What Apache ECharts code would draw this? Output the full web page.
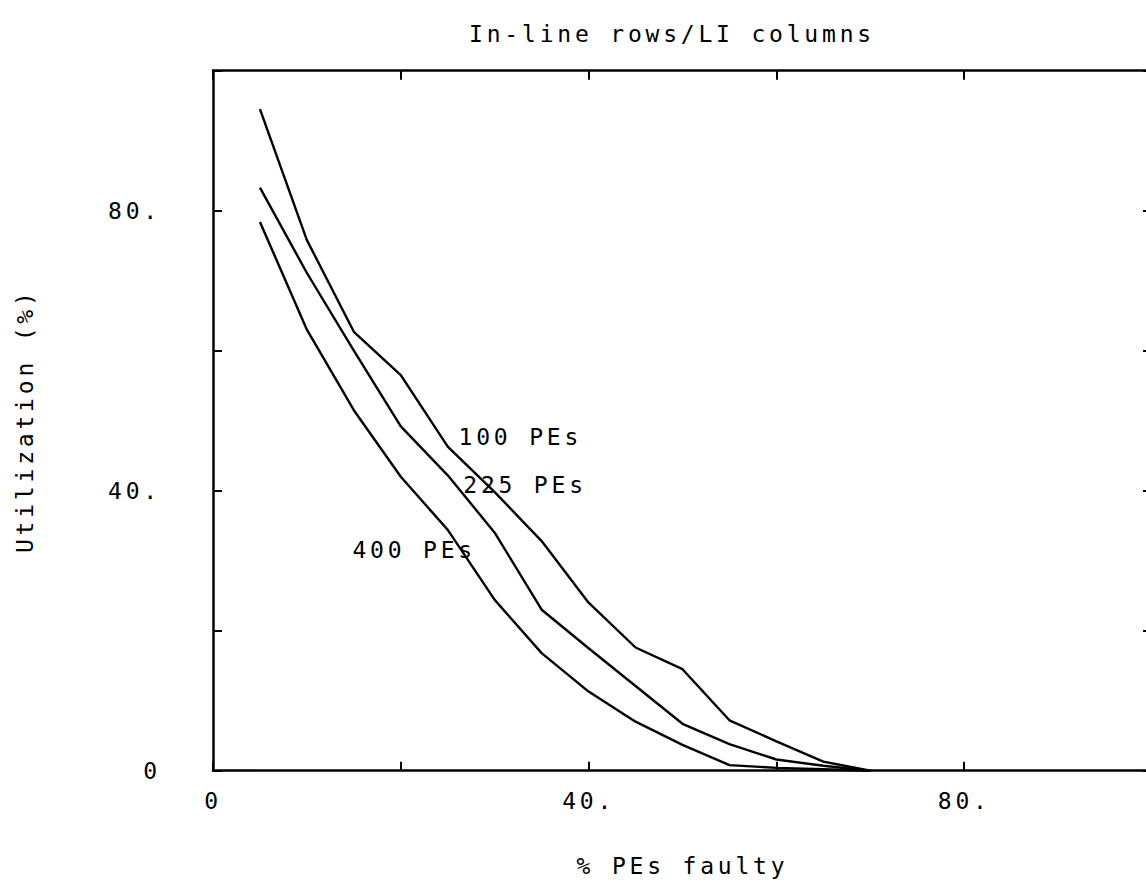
<!DOCTYPE html>
<html>
<head>
<meta charset="utf-8">
<title>In-line rows/LI columns</title>
<script src="https://cdn.jsdelivr.net/npm/echarts@6/dist/echarts.min.js"></script>
<style>
  html, body { margin: 0; padding: 0; background: #fff; overflow: hidden; }
  #chart { width: 1146px; height: 885px; }
  /* plotter-style wide character spacing */
  #chart text { letter-spacing: 3.8px; }
</style>
</head>
<body>
<div id="chart"></div>
<script>
// Percentage of faulty PEs at each sample
const faultyPct = [5, 10, 15, 20, 25, 30, 35, 40, 45, 50, 55, 60, 65, 70];

// Utilization (%) for each array size
const util100 = [94.5, 75.8, 62.7, 56.5, 46.3, 39.8, 32.8, 24.0, 17.6, 14.5, 7.2, 4.2, 1.3, 0];
const util225 = [83.3, 71.1, 60.0, 49.2, 42.2, 34.0, 23.0, 17.5, 12.1, 6.7, 3.8, 1.6, 0.7, 0];
const util400 = [78.4, 63.0, 51.5, 42.0, 34.4, 24.4, 16.8, 11.3, 7.0, 3.7, 0.8, 0.4, 0.2, 0];

const seriesNames = ['100 PEs', '225 PEs', '400 PEs'];
// Where each curve's caption sits, in data units (left edge, vertical centre)
const captionAt = [[26.1, 47.7], [26.6, 40.8], [14.8, 31.5]];

const titleText = 'In-line rows/LI columns';
const xName = '% PEs faulty';
const yName = 'Utilization (%)';

const FONT = '"DejaVu Sans Mono", "Liberation Mono", monospace';
const FS = 23;
const INK = '#000';

function tickLabel(v) {
  if (v === 0) return '0';
  if (v % 40 === 0 && v < 100) return v + '.';
  return '';
}

const pairs = xs => ys => xs.map((x, i) => [x, ys[i]]);
const toPts = pairs(faultyPct);

const curves = [util100, util225, util400];

const chart = echarts.init(document.getElementById('chart'), null, { renderer: 'svg' });

const axisCommon = {
  type: 'value',
  min: 0,
  max: 100,
  interval: 20,
  axisLine: { show: true, onZero: false, lineStyle: { color: INK, width: 2.5 } },
  axisTick: { show: true, inside: true, length: 9, lineStyle: { color: INK, width: 2 } },
  splitLine: { show: false }
};

chart.setOption({
  animation: false,
  backgroundColor: '#fff',
  title: {
    text: titleText,
    left: 667,
    top: 17,
    textAlign: 'center',
    textStyle: { fontFamily: FONT, fontSize: FS, fontWeight: 'normal', color: INK }
  },
  // the frame runs a little past the right edge of the page
  grid: {
    left: 213, top: 70.7, width: 939, height: 700,
    containLabel: false,
    outerBoundsMode: 'none'
  },
  xAxis: [
    Object.assign({}, axisCommon, {
      position: 'bottom',
      name: xName,
      nameLocation: 'middle',
      nameGap: 84,
      nameTextStyle: { fontFamily: FONT, fontSize: FS, color: INK },
      axisLabel: {
        show: true, margin: 19, formatter: tickLabel,
        fontFamily: FONT, fontSize: FS, color: INK
      }
    }),
    Object.assign({}, axisCommon, {
      position: 'top',
      axisLabel: { show: false }
    })
  ],
  yAxis: [
    Object.assign({}, axisCommon, {
      position: 'left',
      name: yName,
      nameLocation: 'middle',
      nameRotate: 90,
      nameGap: 177,
      nameTextStyle: { fontFamily: FONT, fontSize: FS, color: INK },
      axisLabel: {
        show: true, margin: 52, formatter: tickLabel,
        fontFamily: FONT, fontSize: FS, color: INK
      }
    }),
    Object.assign({}, axisCommon, {
      position: 'right',
      axisLabel: { show: false }
    })
  ],
  series: curves.map((ys, i) => ({
    name: seriesNames[i],
    type: 'line',
    xAxisIndex: 0,
    yAxisIndex: 0,
    data: toPts(ys),
    showSymbol: false,
    symbol: 'none',
    lineStyle: { color: INK, width: 2.4 },
    itemStyle: { color: INK },
    markPoint: {
      symbol: 'circle',
      symbolSize: 1,
      itemStyle: { color: 'rgba(0,0,0,0)' },
      label: {
        show: true,
        position: 'right',
        distance: 0,
        formatter: seriesNames[i],
        fontFamily: FONT,
        fontSize: FS,
        color: INK
      },
      data: [{ coord: captionAt[i] }]
    }
  }))
});
</script>
</body>
</html>
